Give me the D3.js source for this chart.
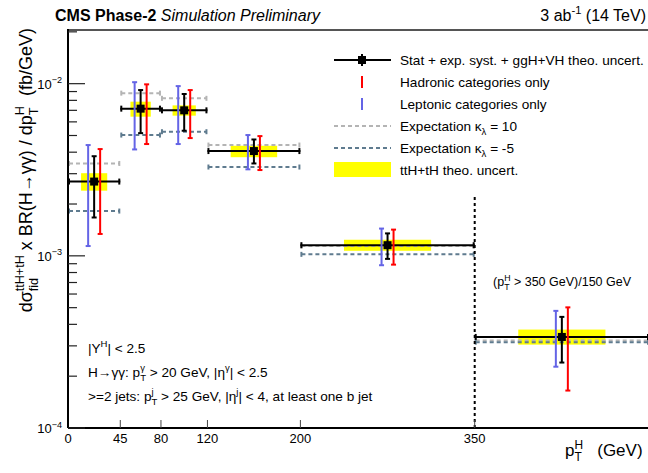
<!DOCTYPE html>
<html>
<head>
<meta charset="utf-8">
<script src="https://cdn.jsdelivr.net/npm/d3@7"></script>
<style>
  body { margin: 0; background: #fff; }
  svg text { font-family: "Liberation Sans", Arial, Helvetica, sans-serif; white-space: pre; }
</style>
</head>
<body>
<div id="chart"></div>
<script>
// bin edges in pT (GeV) and per-bin values (fb/GeV)
const binEdges = [0, 45, 80, 120, 200, 350, 500];
const central = [2.70e-3, 7.16e-3, 7.00e-3, 4.06e-3, 1.153e-3, 3.38e-4];
const totLo   = [1.67e-3, 5.16e-3, 5.33e-3, 3.44e-3, 9.6e-4, 2.40e-4];
const totHi   = [3.79e-3, 9.18e-3, 8.71e-3, 4.74e-3, 1.35e-3, 4.42e-4];
const hadLo   = [1.34e-3, 4.46e-3, 4.83e-3, 3.15e-3, 8.89e-4, 1.65e-4];
const hadHi   = [4.17e-3, 9.91e-3, 9.18e-3, 4.96e-3, 1.42e-3, 5.02e-4];
const lepLo   = [1.14e-3, 4.15e-3, 4.46e-3, 3.18e-3, 8.82e-4, 2.27e-4];
const lepHi   = [4.40e-3, 1.02e-2, 9.68e-3, 5.03e-3, 1.44e-3, 4.79e-4];
const theoLo  = [2.39e-3, 6.43e-3, 6.52e-3, 3.74e-3, 1.07e-3, 3.05e-4];
const theoHi  = [3.02e-3, 7.86e-3, 7.48e-3, 4.36e-3, 1.24e-3, 3.73e-4];
const expKl10 = [3.44e-3, 8.81e-3, 8.22e-3, 4.40e-3, 1.14e-3, 3.22e-4];
const expKlm5 = [1.82e-3, 5.03e-3, 5.26e-3, 3.28e-3, 1.02e-3, 3.15e-4];
const xTicks = [45, 80, 120, 200, 350];
const xTickLabels = ['0', '45', '80', '120', '200', '350'];
const yMajor = [1e-4, 1e-3, 1e-2];
const yMajorLabels = ['-4', '-3', '-2'];
const boundaryPt = 350, boundaryTop = 2.2e-3;

const W = 648, H = 473;
const margin = {top: 30, left: 68, bottom: 45};
const colors = {had: '#ff0000', lep: '#6464e6', k10: '#b4b4b4', km5: '#5f7b8f', theo: '#ffff00'};

const svg = d3.select('#chart').append('svg')
    .attr('width', W).attr('height', H);

const x = d3.scaleLinear().domain([0, 500]).range([margin.left, 649]);
const y = d3.scaleLog().domain([1e-4, 0.0205]).range([H - margin.bottom, margin.top]);

// text with ROOT-like stacked super/subscripts
function rich(parent, px, py, parts, size, anchor) {
    const g = parent.append('g');
    const t = g.append('text').attr('font-size', size).attr('fill', '#000');
    let cx = 0;
    function span(str, dy, fs, style) {
        const s = t.append('tspan').attr('x', cx).attr('y', dy).attr('font-size', fs).text(str);
        if (style) s.attr('font-style', style.italic ? 'italic' : null).attr('font-weight', style.bold ? 'bold' : null);
        return s.node().getComputedTextLength();
    }
    parts.forEach(p => {
        if (typeof p === 'string') { cx += span(p, 0, size); return; }
        if (p.text !== undefined) { cx += span(p.text, 0, size, p); return; }
        const w1 = p.sup ? span(p.sup, -0.42 * size, 0.7 * size) : 0;
        const w2 = p.sub ? span(p.sub, 0.32 * size, 0.7 * size) : 0;
        cx += Math.max(w1, w2);
    });
    const off = anchor === 'end' ? -cx : anchor === 'middle' ? -cx / 2 : 0;
    g.attr('transform', `translate(${px + off},${py})`);
    return g;
}

const bins = central.map((c, i) => ({
    lo: binEdges[i], hi: binEdges[i + 1], mid: (binEdges[i] + binEdges[i + 1]) / 2,
    c, totLo: totLo[i], totHi: totHi[i], hadLo: hadLo[i], hadHi: hadHi[i],
    lepLo: lepLo[i], lepHi: lepHi[i], theoLo: theoLo[i], theoHi: theoHi[i],
    k10: expKl10[i], km5: expKlm5[i]
}));

const plot = svg.append('g');

// theory uncertainty boxes (half bin width)
plot.selectAll('.theo').data(bins).enter().append('rect')
    .attr('x', d => x(d.mid - (d.hi - d.lo) / 4))
    .attr('width', d => x(d.mid + (d.hi - d.lo) / 4) - x(d.mid - (d.hi - d.lo) / 4))
    .attr('y', d => y(d.theoHi))
    .attr('height', d => y(d.theoLo) - y(d.theoHi))
    .attr('fill', colors.theo);

// expectation lines
function expLine(key, color) {
    const g = plot.append('g').attr('stroke', color).attr('stroke-width', 2).attr('fill', 'none');
    g.selectAll('line.h').data(bins).enter().append('line')
        .attr('x1', d => x(d.lo) + 1).attr('x2', d => x(d.hi) - 1)
        .attr('y1', d => y(d[key])).attr('y2', d => y(d[key]))
        .attr('stroke-dasharray', '4,3');
    g.selectAll('line.l').data(bins).enter().append('line')
        .attr('x1', d => x(d.lo) + 1).attr('x2', d => x(d.lo) + 1)
        .attr('y1', d => y(d[key]) - 2.5).attr('y2', d => y(d[key]) + 2.5);
    g.selectAll('line.r').data(bins).enter().append('line')
        .attr('x1', d => x(d.hi) - 1).attr('x2', d => x(d.hi) - 1)
        .attr('y1', d => y(d[key]) - 2.5).attr('y2', d => y(d[key]) + 2.5);
}
expLine('k10', colors.k10);
expLine('km5', colors.km5);

// bin-width horizontal lines
const hl = plot.append('g').attr('stroke', '#000').attr('stroke-width', 2);
hl.selectAll('line.w').data(bins).enter().append('line')
    .attr('x1', d => x(d.lo)).attr('x2', d => x(d.hi))
    .attr('y1', d => y(d.c)).attr('y2', d => y(d.c));
hl.selectAll('line.e1').data(bins).enter().append('line')
    .attr('x1', d => x(d.lo) + 1).attr('x2', d => x(d.lo) + 1)
    .attr('y1', d => y(d.c) - 3).attr('y2', d => y(d.c) + 3);
hl.selectAll('line.e2').data(bins).enter().append('line')
    .attr('x1', d => x(d.hi) - 1).attr('x2', d => x(d.hi) - 1)
    .attr('y1', d => y(d.c) - 3).attr('y2', d => y(d.c) + 3);

// vertical error bars with caps
function errBar(lo, hi, dx, color) {
    const g = plot.append('g').attr('stroke', color).attr('stroke-width', 2);
    g.selectAll('line.v').data(bins).enter().append('line')
        .attr('x1', d => x(d.mid) + dx).attr('x2', d => x(d.mid) + dx)
        .attr('y1', d => y(d[lo])).attr('y2', d => y(d[hi]));
    [lo, hi].forEach(k => {
        g.selectAll('line.c' + k).data(bins).enter().append('line')
            .attr('x1', d => x(d.mid) + dx - 2.5).attr('x2', d => x(d.mid) + dx + 2.5)
            .attr('y1', d => y(d[k])).attr('y2', d => y(d[k]));
    });
}
errBar('lepLo', 'lepHi', -6, colors.lep);
errBar('hadLo', 'hadHi', 6, colors.had);
errBar('totLo', 'totHi', 0, '#000');

plot.selectAll('.marker').data(bins).enter().append('rect')
    .attr('x', d => x(d.mid) - 4).attr('y', d => y(d.c) - 4)
    .attr('width', 8).attr('height', 8).attr('fill', '#000');

// boundary for overflow bin
plot.append('line')
    .attr('x1', x(boundaryPt)).attr('x2', x(boundaryPt))
    .attr('y1', y(1e-4)).attr('y2', y(boundaryTop))
    .attr('stroke', '#000').attr('stroke-width', 2).attr('stroke-dasharray', '3,3');

// frame and axes
svg.append('line').attr('x1', margin.left).attr('x2', W).attr('y1', margin.top).attr('y2', margin.top)
    .attr('stroke', '#555').attr('stroke-width', 2);
svg.append('line').attr('x1', margin.left).attr('x2', margin.left).attr('y1', margin.top - 1).attr('y2', y(1e-4))
    .attr('stroke', '#000').attr('stroke-width', 2);
svg.append('line').attr('x1', margin.left).attr('x2', W).attr('y1', y(1e-4)).attr('y2', y(1e-4))
    .attr('stroke', '#000').attr('stroke-width', 2);

// y ticks
const yTicks = [];
for (let e = -4; e <= -2; e++) for (let m = 1; m <= 9; m++) {
    const v = m * Math.pow(10, e);
    if (v <= y.domain()[1]) yTicks.push({v, major: m === 1});
}
svg.append('g').selectAll('line').data(yTicks).enter().append('line')
    .attr('x1', margin.left).attr('x2', d => margin.left + (d.major ? 17 : 9))
    .attr('y1', d => y(d.v)).attr('y2', d => y(d.v))
    .attr('stroke', '#222').attr('stroke-width', 1.2);
yMajor.forEach((v, i) => {
    rich(svg, 62, y(v) + 5, ['10', {sup: '\u2212' + yMajorLabels[i].slice(1)}], 13, 'end');
});

// x ticks
svg.append('g').selectAll('line').data(xTicks).enter().append('line')
    .attr('x1', d => x(d)).attr('x2', d => x(d))
    .attr('y1', y(1e-4)).attr('y2', y(1e-4) - 8)
    .attr('stroke', '#444').attr('stroke-width', 1);
svg.append('g').selectAll('text').data([0].concat(xTicks)).enter().append('text')
    .attr('x', d => x(d)).attr('y', 443)
    .attr('text-anchor', 'middle').attr('font-size', 13)
    .text((d, i) => xTickLabels[i]);

// axis titles
rich(svg, 565, 456, ['p', {sup: 'H', sub: 'T'}, '   (GeV)'], 17, 'start');
const yl = svg.append('g').attr('transform', 'translate(32,28) rotate(-90)');
rich(yl, 0, 0, ['d\u03c3', {sup: 'ttH+tH', sub: 'fid'}, ' x BR(H\u2192\u03b3\u03b3) / dp', {sup: 'H', sub: 'T'}, '  (fb/GeV)'], 18, 'end');

// header
rich(svg, 55, 21, [{text: 'CMS Phase-2', bold: true}, ' ', {text: 'Simulation Preliminary', italic: true}], 16, 'start');
rich(svg, 646, 21, ['3 ab', {sup: '-1'}, ' (14 TeV)'], 16, 'end');

// legend
const legX0 = 334, legX1 = 391, legTx = 400, legY0 = 60, legDy = 22;
const legendLabels = [
    ['Stat + exp. syst. + ggH+VH theo. uncert.'],
    ['Hadronic categories only'],
    ['Leptonic categories only'],
    ['Expectation \u03ba', {sub: '\u03bb'}, ' = 10'],
    ['Expectation \u03ba', {sub: '\u03bb'}, ' = -5'],
    ['ttH+tH theo. uncert.']
];
const leg = svg.append('g');
legendLabels.forEach((parts, i) => rich(leg, legTx, legY0 + i * legDy + 5, parts, 13.6, 'start'));
const ly = i => legY0 + i * legDy;
leg.append('line').attr('x1', legX0).attr('x2', legX1).attr('y1', ly(0)).attr('y2', ly(0)).attr('stroke', '#000').attr('stroke-width', 2);
leg.append('line').attr('x1', 362).attr('x2', 362).attr('y1', ly(0) - 6).attr('y2', ly(0) + 6).attr('stroke', '#000').attr('stroke-width', 2);
leg.append('rect').attr('x', 358).attr('y', ly(0) - 4).attr('width', 8).attr('height', 8).attr('fill', '#000');
leg.append('line').attr('x1', 362).attr('x2', 362).attr('y1', ly(1) - 6).attr('y2', ly(1) + 6).attr('stroke', colors.had).attr('stroke-width', 2);
leg.append('line').attr('x1', 362).attr('x2', 362).attr('y1', ly(2) - 6).attr('y2', ly(2) + 6).attr('stroke', colors.lep).attr('stroke-width', 2);
leg.append('line').attr('x1', legX0).attr('x2', legX1).attr('y1', ly(3)).attr('y2', ly(3)).attr('stroke', colors.k10).attr('stroke-width', 2).attr('stroke-dasharray', '4,3');
leg.append('line').attr('x1', legX0).attr('x2', legX1).attr('y1', ly(4)).attr('y2', ly(4)).attr('stroke', colors.km5).attr('stroke-width', 2).attr('stroke-dasharray', '4,3');
leg.append('rect').attr('x', legX0).attr('y', ly(5) - 8).attr('width', legX1 - legX0).attr('height', 15).attr('fill', colors.theo);

// selection notes
rich(svg, 88, 353, ['|Y', {sup: 'H'}, '| < 2.5'], 13.6, 'start');
rich(svg, 88, 377, ['H\u2192\u03b3\u03b3: p', {sup: '\u03b3', sub: 'T'}, ' > 20 GeV, |\u03b7', {sup: '\u03b3'}, '| < 2.5'], 13.6, 'start');
rich(svg, 88, 401, ['>=2 jets: p', {sup: 'j', sub: 'T'}, ' > 25 GeV, |\u03b7', {sup: 'j'}, '| < 4, at least one b jet'], 13.6, 'start');
rich(svg, 493, 286, ['(p', {sup: 'H', sub: 'T'}, ' > 350 GeV)/150 GeV'], 12.5, 'start');
</script>
</body>
</html>
